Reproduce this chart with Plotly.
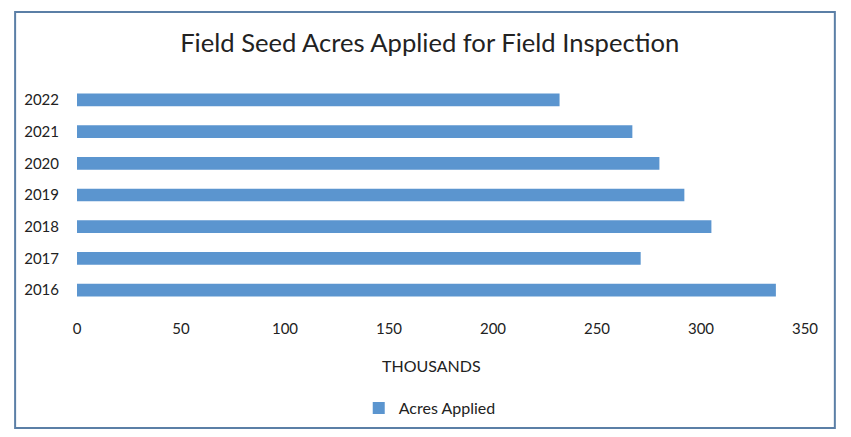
import plotly.graph_objects as go

# --- Data ---
years = ["2016", "2017", "2018", "2019", "2020", "2021", "2022"]
acres_thousands = [336, 271, 305, 292, 280, 267, 232]
x_ticks = [0, 50, 100, 150, 200, 250, 300, 350]

BAR_COLOR = "#5b95cf"
FONT = "Lato, 'Open Sans', sans-serif"

# --- Figure ---
fig = go.Figure(
    go.Bar(
        x=acres_thousands,
        y=years,
        orientation="h",
        name="Acres Applied",
        marker=dict(color=BAR_COLOR, line=dict(width=0)),
    )
)

fig.update_layout(
    width=835,
    height=421,
    paper_bgcolor="white",
    plot_bgcolor="white",
    font=dict(family=FONT, size=15, color="#222"),
    title=dict(
        text="Field Seed Acres Applied for Field Inspection",
        font=dict(family=FONT, size=25.6, color="#222"),
        x=0.505,
        xanchor="center",
        y=0.917,
        yanchor="middle",
    ),
    bargap=0.6,
    margin=dict(l=69, r=38, t=76, b=123, autoexpand=False),
    xaxis=dict(
        range=[0, 350],
        tickvals=x_ticks,
        showgrid=False,
        zeroline=False,
        showline=False,
        ticks="outside",
        ticklen=9,
        tickcolor="rgba(0,0,0,0)",
        tickfont=dict(size=15),
    ),
    yaxis=dict(
        showgrid=False,
        zeroline=False,
        showline=False,
        ticks="outside",
        ticklen=14,
        tickcolor="rgba(0,0,0,0)",
        tickfont=dict(size=15),
    ),
    showlegend=True,
    legend=dict(
        orientation="h",
        x=0.387,
        xanchor="left",
        y=-0.46,
        yanchor="middle",
        font=dict(size=16),
        itemwidth=30,
    ),
    annotations=[
        dict(
            text="THOUSANDS",
            xref="paper",
            yref="paper",
            x=0.487,
            y=-0.27,
            xanchor="center",
            yanchor="middle",
            showarrow=False,
            font=dict(size=16, color="#222"),
        )
    ],
    shapes=[
        dict(
            type="rect",
            xref="paper",
            yref="paper",
            x0=-0.085,
            x1=1.041,
            y0=-0.5495,
            y1=1.324,
            line=dict(color="#5b7fa6", width=2),
        )
    ],
)

fig.write_html("out.html")
